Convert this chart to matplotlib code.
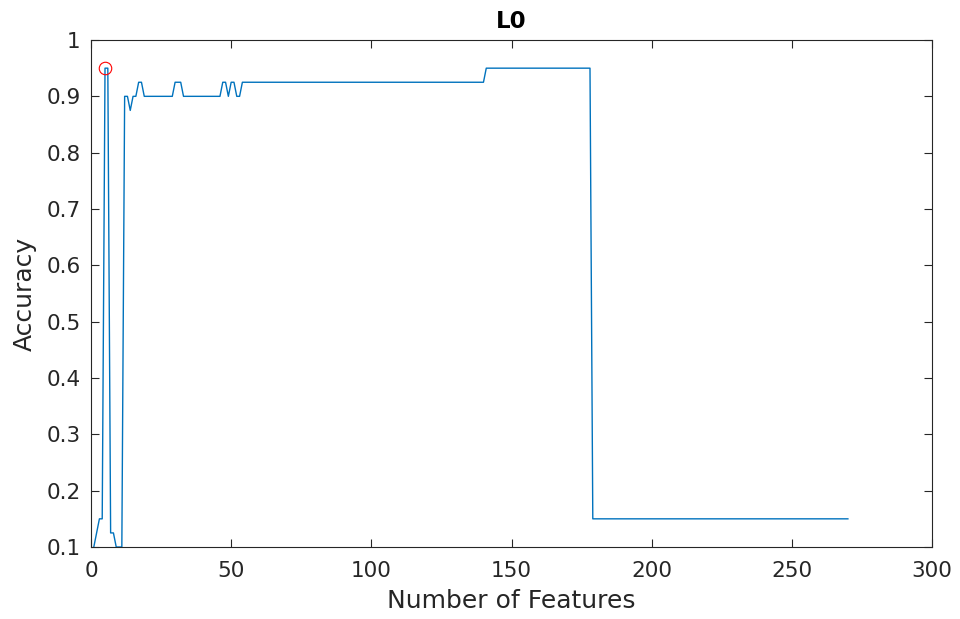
import matplotlib
matplotlib.use("Agg")
import matplotlib.pyplot as plt
import numpy as np

# curve vertices (number of features -> accuracy)
n_features = [1, 3, 4, 5, 6, 7, 8, 9, 11, 12, 13, 14, 15, 16, 17, 18, 19,
              29, 30, 32, 33, 46, 47, 48, 49, 50, 51, 52, 53, 54,
              140, 141, 178, 179, 270]
accuracy = [0.1, 0.15, 0.15, 0.95, 0.95, 0.125, 0.125, 0.1, 0.1, 0.9, 0.9, 0.875, 0.9, 0.9, 0.925, 0.925, 0.9,
            0.9, 0.925, 0.925, 0.9, 0.9, 0.925, 0.925, 0.9, 0.925, 0.925, 0.9, 0.9, 0.925,
            0.925, 0.95, 0.95, 0.15, 0.15]

x_ticks = [0, 50, 100, 150, 200, 250, 300]
y_ticks = [0.1, 0.2, 0.3, 0.4, 0.5, 0.6, 0.7, 0.8, 0.9, 1.0]
y_labels = ["0.1", "0.2", "0.3", "0.4", "0.5", "0.6", "0.7", "0.8", "0.9", "1"]

dark = "#262626"
plt.rcParams["font.family"] = ["DejaVu Sans"]

fig = plt.figure(figsize=(9.6, 6.19), dpi=100)
ax = fig.add_axes([91 / 960, 72 / 619, 841 / 960, 507 / 619])

ax.plot(n_features, accuracy, color="#0072BD", lw=1.0)
best = int(np.argmax(accuracy))
ax.plot(n_features[best], accuracy[best], "o", mfc="none", mec="red", ms=9, mew=0.8)

ax.set_xlim(0, 300)
ax.set_ylim(0.1, 1)
ax.set_xticks(x_ticks)
ax.set_yticks(y_ticks)
ax.set_yticklabels(y_labels)
ax.tick_params(direction="in", top=True, right=True, length=6, width=0.8,
               colors=dark, labelsize=15.5)
ax.tick_params(axis="x", pad=10)
ax.tick_params(axis="y", pad=7.5)
for s in ax.spines.values():
    s.set_color(dark)
    s.set_linewidth(0.8)

ax.set_xlabel("Number of Features", fontsize=18, color=dark, labelpad=6)
ax.set_ylabel("Accuracy", fontsize=18, color=dark, labelpad=7)
ax.set_title("L0", fontsize=16.5, fontweight="bold", color="black", pad=9)

fig.savefig("out.png", dpi=100)
plt.close()
